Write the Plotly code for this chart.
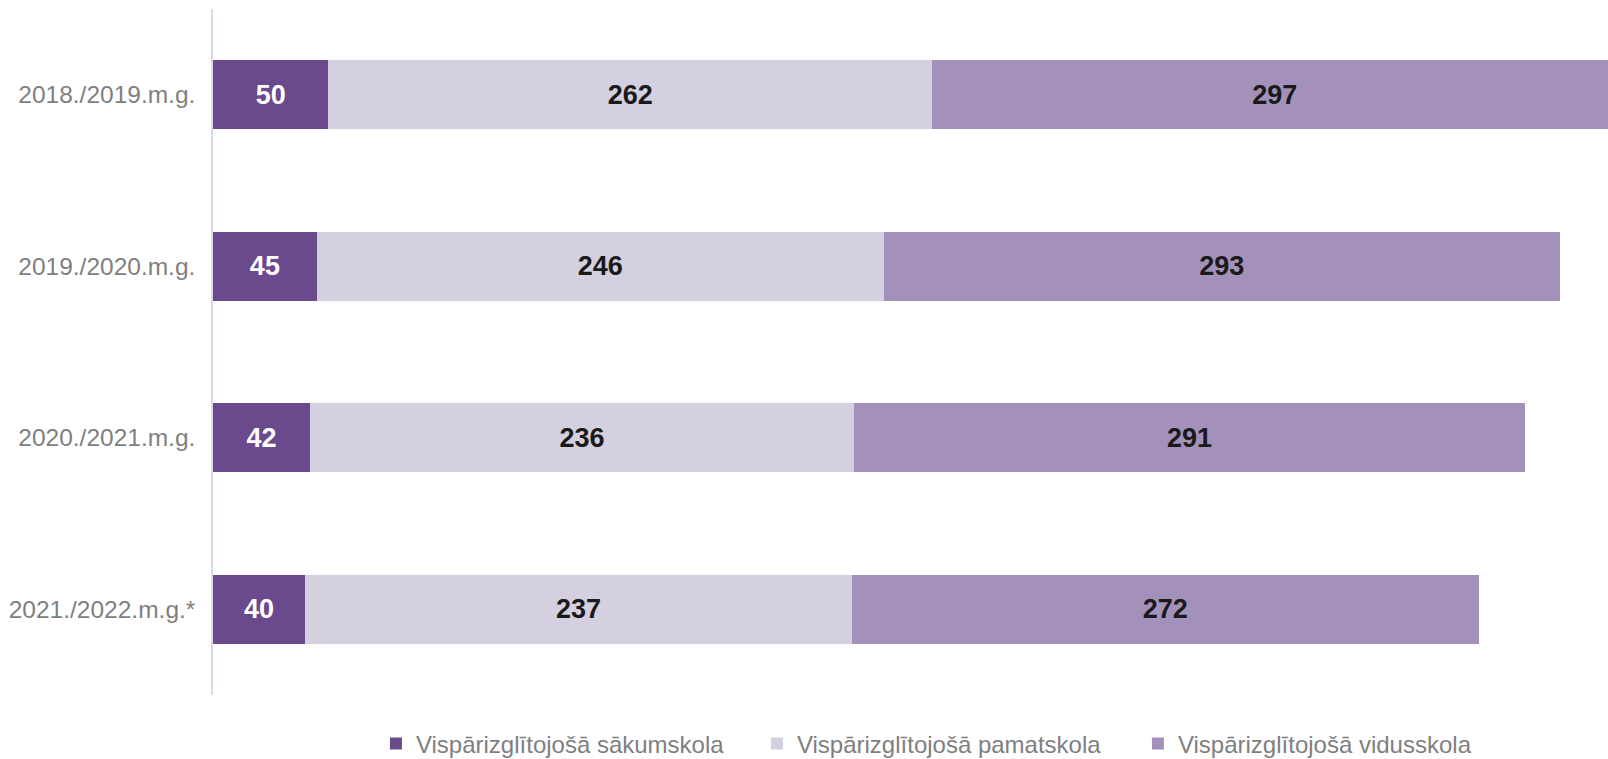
import plotly.graph_objects as go

years = ["2018./2019.m.g.", "2019./2020.m.g.", "2020./2021.m.g.", "2021./2022.m.g.*"]
sakumskola = [50, 45, 42, 40]
pamatskola = [262, 246, 236, 237]
vidusskola = [297, 293, 291, 272]

series_names = ["Vispārizglītojošā sākumskola", "Vispārizglītojošā pamatskola", "Vispārizglītojošā vidusskola"]
colors = ["#6a4a8c", "#d4d0e0", "#a391bb"]
text_colors = ["#ffffff", "#1a1a1a", "#1a1a1a"]

FONT = "Liberation Sans, Arial, sans-serif"

fig = go.Figure()
for name, vals, col, tcol in zip(series_names, [sakumskola, pamatskola, vidusskola], colors, text_colors):
    fig.add_trace(go.Bar(
        y=years, x=vals, name=name, orientation="h",
        marker=dict(color=col, line=dict(width=0)),
        text=[str(v) for v in vals], textposition="inside", insidetextanchor="middle",
        textfont=dict(family=FONT, size=27, color=tcol, weight="bold"),
        constraintext="none",
    ))

fig.update_layout(
    barmode="stack",
    bargap=0.6,
    width=1608, height=759,
    margin=dict(l=213, r=0, t=9, b=64, autoexpand=False),
    paper_bgcolor="white", plot_bgcolor="white",
    font=dict(family=FONT, color="#7f7f7f"),
    xaxis=dict(range=[0, 605], showticklabels=False, showgrid=False, zeroline=False, showline=False, fixedrange=True),
    yaxis=dict(categoryorder="array", categoryarray=years, autorange="reversed",
               showline=True, linecolor="#dcd7ec", linewidth=1.5, showgrid=False,
               tickfont=dict(size=24.5, color="#7f7f7f"), ticklabelstandoff=11, ticks=""),
    legend=dict(orientation="h", x=0.1168, xanchor="left",
                yref="container", y=1 - 744 / 759, yanchor="middle",
                font=dict(size=24, color="#7f7f7f"), entrywidth=336, itemwidth=30,
                traceorder="normal"),
    showlegend=True,
)

fig.write_html("out.html", config={"displayModeBar": False},
               post_script="document.body.style.margin='0px';document.body.style.overflow='hidden';")
